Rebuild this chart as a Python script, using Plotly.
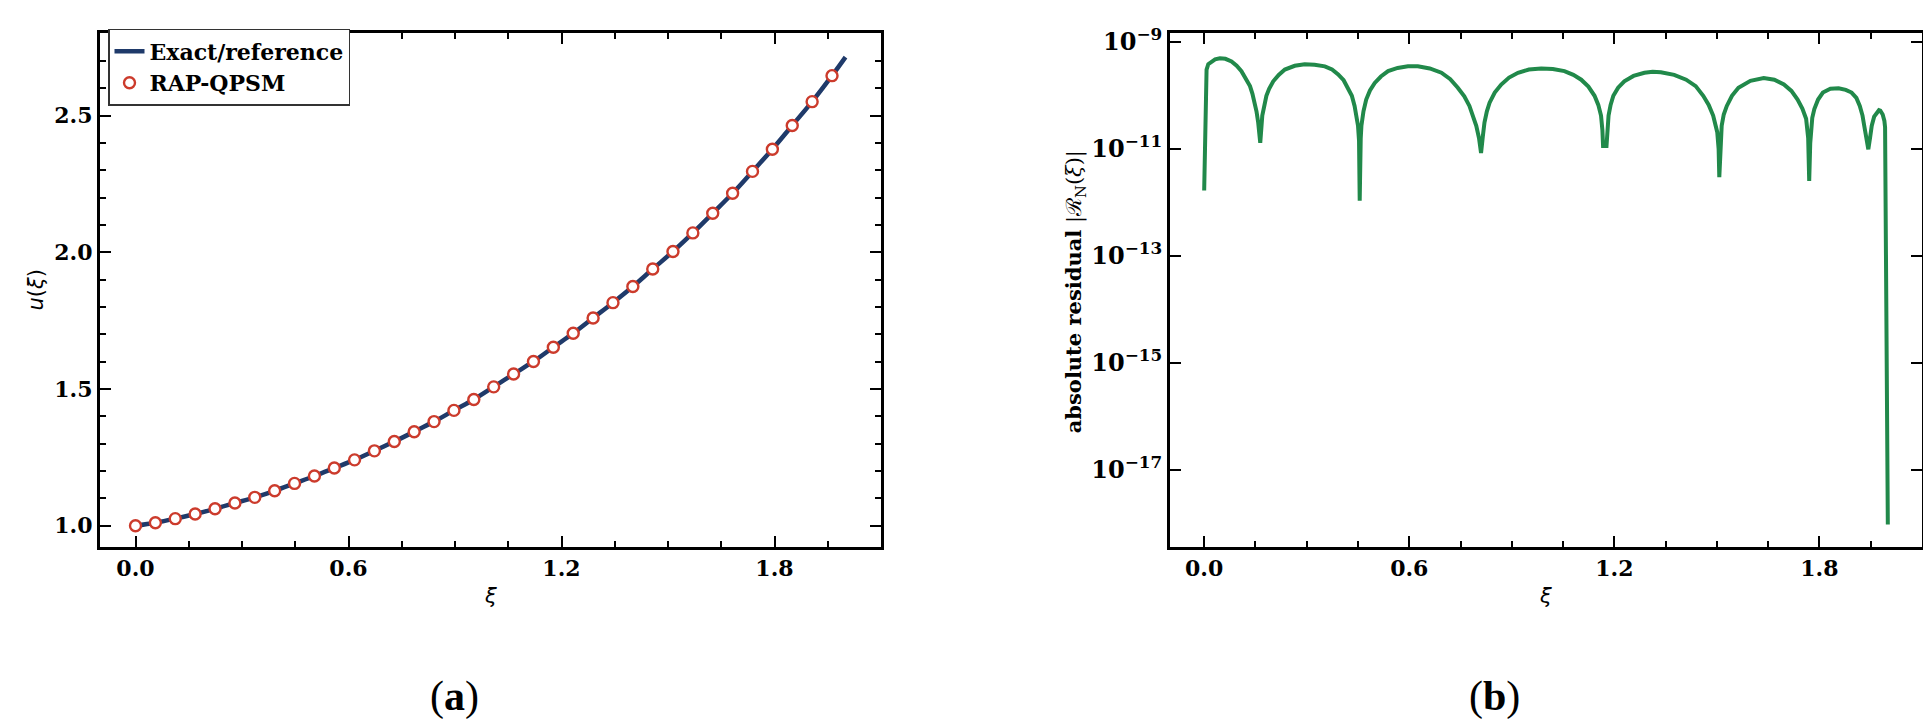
import plotly.graph_objects as go

# ---------------- data ----------------
xi_markers = [0.000, 0.056, 0.112, 0.168, 0.224, 0.280, 0.336, 0.392, 0.448,
              0.504, 0.560, 0.617, 0.673, 0.729, 0.785, 0.841, 0.897, 0.953,
              1.009, 1.065, 1.121, 1.177, 1.233, 1.289, 1.345, 1.401, 1.457,
              1.514, 1.570, 1.626, 1.682, 1.738, 1.794, 1.850, 1.906, 1.962]
u_markers = [1.000, 1.011, 1.026, 1.043, 1.062, 1.083, 1.104, 1.128, 1.155,
             1.182, 1.211, 1.241, 1.274, 1.308, 1.344, 1.381, 1.422, 1.462,
             1.508, 1.555, 1.601, 1.653, 1.704, 1.760, 1.816, 1.875, 1.939,
             2.003, 2.071, 2.143, 2.216, 2.296, 2.377, 2.464, 2.551, 2.646]

xi_exact = xi_markers + [2.000]
u_exact = u_markers + [2.714]

xi_res = [0.000, 0.007, 0.012, 0.021, 0.032, 0.046, 0.062, 0.080, 0.095, 0.109,
          0.122, 0.134, 0.141, 0.148, 0.153, 0.158, 0.164,
          0.170, 0.175, 0.182, 0.190, 0.202, 0.218, 0.236, 0.265, 0.294, 0.323,
          0.353, 0.374, 0.392, 0.408, 0.421, 0.432, 0.440, 0.446, 0.450, 0.453, 0.455,
          0.458, 0.460, 0.466, 0.474, 0.485, 0.499, 0.517, 0.538, 0.566, 0.596,
          0.625, 0.660, 0.694, 0.720, 0.742, 0.761, 0.776, 0.787, 0.796, 0.804, 0.810,
          0.815, 0.820, 0.827, 0.835, 0.850, 0.869, 0.892, 0.918, 0.950, 0.986,
          1.020, 1.054, 1.080, 1.103, 1.124, 1.142, 1.153, 1.161, 1.165, 1.167, 1.177,
          1.180, 1.183, 1.189, 1.197, 1.211, 1.229, 1.256, 1.288, 1.312, 1.336,
          1.375, 1.410, 1.438, 1.460, 1.476, 1.489, 1.501, 1.505, 1.507,
          1.510, 1.514, 1.520, 1.529, 1.544, 1.563, 1.598, 1.637, 1.668, 1.696,
          1.718, 1.736, 1.750, 1.761, 1.767, 1.770,
          1.773, 1.775, 1.779, 1.785, 1.796, 1.810, 1.832, 1.856, 1.877, 1.894,
          1.908, 1.918, 1.926, 1.931, 1.937, 1.943,
          1.948, 1.953, 1.960, 1.968, 1.974, 1.978, 1.985, 1.990, 1.992, 2.000]
log10_res = [-11.78, -9.52, -9.42, -9.37, -9.33, -9.31, -9.32, -9.37, -9.45, -9.55,
             -9.68, -9.83, -9.97, -10.14, -10.30, -10.51, -10.89,
             -10.38, -10.18, -10.01, -9.88, -9.74, -9.62, -9.52, -9.45, -9.42, -9.43,
             -9.46, -9.52, -9.61, -9.72, -9.86, -10.01, -10.20, -10.38, -10.57, -10.85, -11.97,
             -10.80, -10.57, -10.30, -10.08, -9.91, -9.77, -9.65, -9.55, -9.49, -9.46,
             -9.46, -9.50, -9.58, -9.70, -9.86, -10.02, -10.20, -10.38, -10.57, -10.80, -11.08,
             -10.78, -10.51, -10.30, -10.14, -9.95, -9.80, -9.67, -9.58, -9.52, -9.50,
             -9.51, -9.55, -9.62, -9.71, -9.84, -10.01, -10.18, -10.38, -10.65, -10.95, -10.95,
             -10.65, -10.38, -10.18, -10.01, -9.86, -9.74, -9.64, -9.58, -9.56, -9.57,
             -9.62, -9.71, -9.83, -10.01, -10.18, -10.38, -10.69, -11.00, -11.53,
             -10.95, -10.57, -10.36, -10.20, -10.01, -9.86, -9.73, -9.68, -9.71, -9.80,
             -9.92, -10.08, -10.25, -10.44, -10.80, -11.60,
             -10.90, -10.63, -10.42, -10.26, -10.08, -9.95, -9.88, -9.87, -9.90, -9.95,
             -10.05, -10.20, -10.38, -10.57, -10.80, -11.01,
             -10.80, -10.57, -10.40, -10.32, -10.28, -10.29, -10.36, -10.48, -10.60, -18.02]
residual = [10 ** v for v in log10_res]

x_ticks = [0.0, 0.6, 1.2, 1.8]
x_ticklabels = ["0.0", "0.6", "1.2", "1.8"]
u_ticks = [1.0, 1.5, 2.0, 2.5]
u_ticklabels = ["1.0", "1.5", "2.0", "2.5"]
res_ticks = [1e-9, 1e-11, 1e-13, 1e-15, 1e-17]
res_ticklabels = ["10<sup>−9</sup>", "10<sup>−11</sup>", "10<sup>−13</sup>",
                  "10<sup>−15</sup>", "10<sup>−17</sup>"]

# ---------------- styling ----------------
W, H = 1931, 724
NAVY = "#1f3a6a"
RED = "#cc3b2c"
GREEN = "#21894a"
tickfont = dict(family="DejaVu Serif", size=22, color="black", weight="bold")

fig = go.Figure()
fig.add_trace(go.Scatter(x=xi_exact, y=u_exact, mode="lines", name="Exact/reference",
                         line=dict(color=NAVY, width=4.5, shape="spline"),
                         xaxis="x", yaxis="y"))
fig.add_trace(go.Scatter(x=xi_markers, y=u_markers, mode="markers", name="RAP-QPSM",
                         marker=dict(symbol="circle", size=11, color="white",
                                     line=dict(color=RED, width=2.4)),
                         xaxis="x", yaxis="y"))
fig.add_trace(go.Scatter(x=xi_res, y=residual, mode="lines", showlegend=False,
                         line=dict(color=GREEN, width=4),
                         xaxis="x2", yaxis="y2"))

axis_common = dict(showline=True, linecolor="black", linewidth=3, mirror="allticks",
                   ticks="inside", ticklen=11, tickwidth=2.2, tickcolor="black",
                   showgrid=False, zeroline=False, tickfont=tickfont)

dom_y = [1 - 536.5 / H, 1 - 16.5 / H]
fig.update_layout(
    width=W, height=H,
    margin=dict(l=0, r=0, t=0, b=0),
    paper_bgcolor="white", plot_bgcolor="white",
    xaxis=dict(domain=[92 / W, 873 / W], range=[-0.1, 2.1],
               tickvals=x_ticks, ticktext=x_ticklabels,
               minor=dict(ticks="inside", ticklen=6, tickwidth=1.8, dtick=0.15,
                          tick0=0, tickcolor="black", showgrid=False),
               anchor="y", **axis_common),
    yaxis=dict(domain=dom_y, range=[0.923, 2.801],
               tickvals=u_ticks, ticktext=u_ticklabels,
               minor=dict(ticks="inside", ticklen=6, tickwidth=1.8, dtick=0.1,
                          tick0=0, tickcolor="black", showgrid=False),
               anchor="x", **axis_common),
    xaxis2=dict(domain=[1162 / W, 1914 / W], range=[-0.1, 2.1],
                tickvals=x_ticks, ticktext=x_ticklabels,
                minor=dict(ticks="inside", ticklen=6, tickwidth=1.8, dtick=0.15,
                           tick0=0, tickcolor="black", showgrid=False),
                anchor="y2", **axis_common),
    yaxis2=dict(domain=dom_y, type="log", range=[-18.437, -8.843],
                tickvals=res_ticks, ticktext=res_ticklabels,
                anchor="x2", **{**axis_common,
                                "tickfont": dict(family="DejaVu Serif", size=24,
                                                 color="black", weight="bold")}),
    legend=dict(x=100 / W, y=1 - 12 / H, xanchor="left", yanchor="top",
                bgcolor="white", bordercolor="#333333", borderwidth=1.5,
                font=dict(family="DejaVu Serif", size=22, color="black", weight="bold"),
                itemwidth=30, tracegroupgap=2),
    showlegend=True,
)

ann_font = dict(family="DejaVu Sans", size=21, color="black")
fig.add_annotation(text="<i>ξ</i>", x=482.5 / W, y=1 - 586.7 / H, xref="paper", yref="paper",
                   showarrow=False, font=ann_font, xanchor="center", yanchor="middle")
fig.add_annotation(text="<i>ξ</i>", x=1537 / W, y=1 - 586.7 / H, xref="paper", yref="paper",
                   showarrow=False, font=ann_font, xanchor="center", yanchor="middle")
fig.add_annotation(text="<i>u</i>(<i>ξ</i>)", x=28 / W, y=1 - 277 / H, xref="paper", yref="paper",
                   showarrow=False, font=ann_font, textangle=-90,
                   xanchor="center", yanchor="middle")
fig.add_annotation(text="<b>absolute residual</b> |ℛ<sub>N</sub>(<i>ξ</i>)|",
                   x=1066.7 / W, y=1 - 278 / H, xref="paper", yref="paper",
                   showarrow=False, font=dict(family="DejaVu Serif", size=21, color="black"),
                   textangle=-90, xanchor="center", yanchor="middle")
cap_font = dict(family="Liberation Serif", size=42, color="black")
fig.add_annotation(text="(<b>a</b>)", x=446 / W, y=1 - 688 / H, xref="paper", yref="paper",
                   showarrow=False, font=cap_font, xanchor="center", yanchor="middle")
fig.add_annotation(text="(<b>b</b>)", x=1486 / W, y=1 - 688 / H, xref="paper", yref="paper",
                   showarrow=False, font=cap_font, xanchor="center", yanchor="middle")

fig.write_html("out.html")
